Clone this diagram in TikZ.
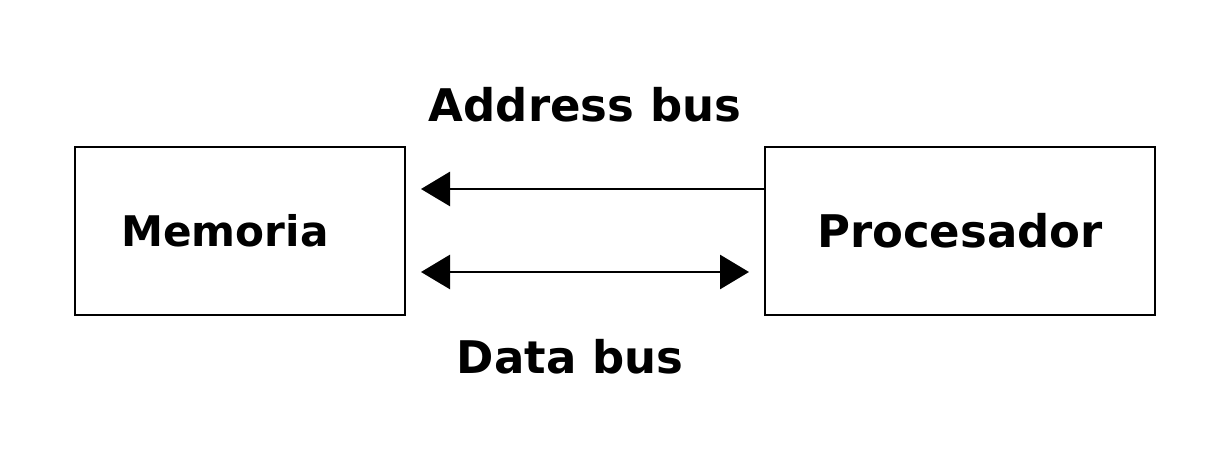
\documentclass[tikz,border=0pt]{standalone}
\usepackage{fontspec}
\setmainfont{DejaVu Sans}
\usetikzlibrary{arrows.meta,positioning}

\begin{document}
\begin{tikzpicture}[
        unit/.style={rectangle, draw=black, line width=0.028cm, minimum height=1.68cm, inner sep=0pt},
        label/.style={font=\fontsize{12.8pt}{15pt}\selectfont\bfseries, anchor=base, inner sep=0pt},
        arrow/.style={-{Triangle[length=0.29cm, width=0.34cm]}, line width=0.028cm}
    ]
        \useasboundingbox (0,0) rectangle (12.30,4.62);

        % Boxes
        \node[unit, minimum width=3.30cm] (memoria) at (2.40,2.31) {};
        \node[unit, minimum width=3.90cm] (procesador) at (9.60,2.31) {};
        \node[label, font=\fontsize{12pt}{14pt}\selectfont\bfseries] (memtext) at (2.25,2.15) {Memoria};
        \node[label] (proctext) at (9.60,2.14) {Procesador};

        % Bus labels
        \node[label] (addrtext) at (5.85,3.40) {Address bus};
        \node[label] (datatext) at (5.70,0.88) {Data bus};

        % Bus ends
        \coordinate (addrend) at (4.21,2.73);
        \coordinate (dataleft) at (4.21,1.90);
        \coordinate (dataright) at (7.49,1.90);

        % Arrows
        \draw[arrow] (procesador.west |- addrend) -- (addrend);
        \draw[arrow, {Triangle[length=0.29cm, width=0.34cm]}-{Triangle[length=0.29cm, width=0.34cm]}] (dataleft) -- (dataright);

    \end{tikzpicture}
\end{document}
